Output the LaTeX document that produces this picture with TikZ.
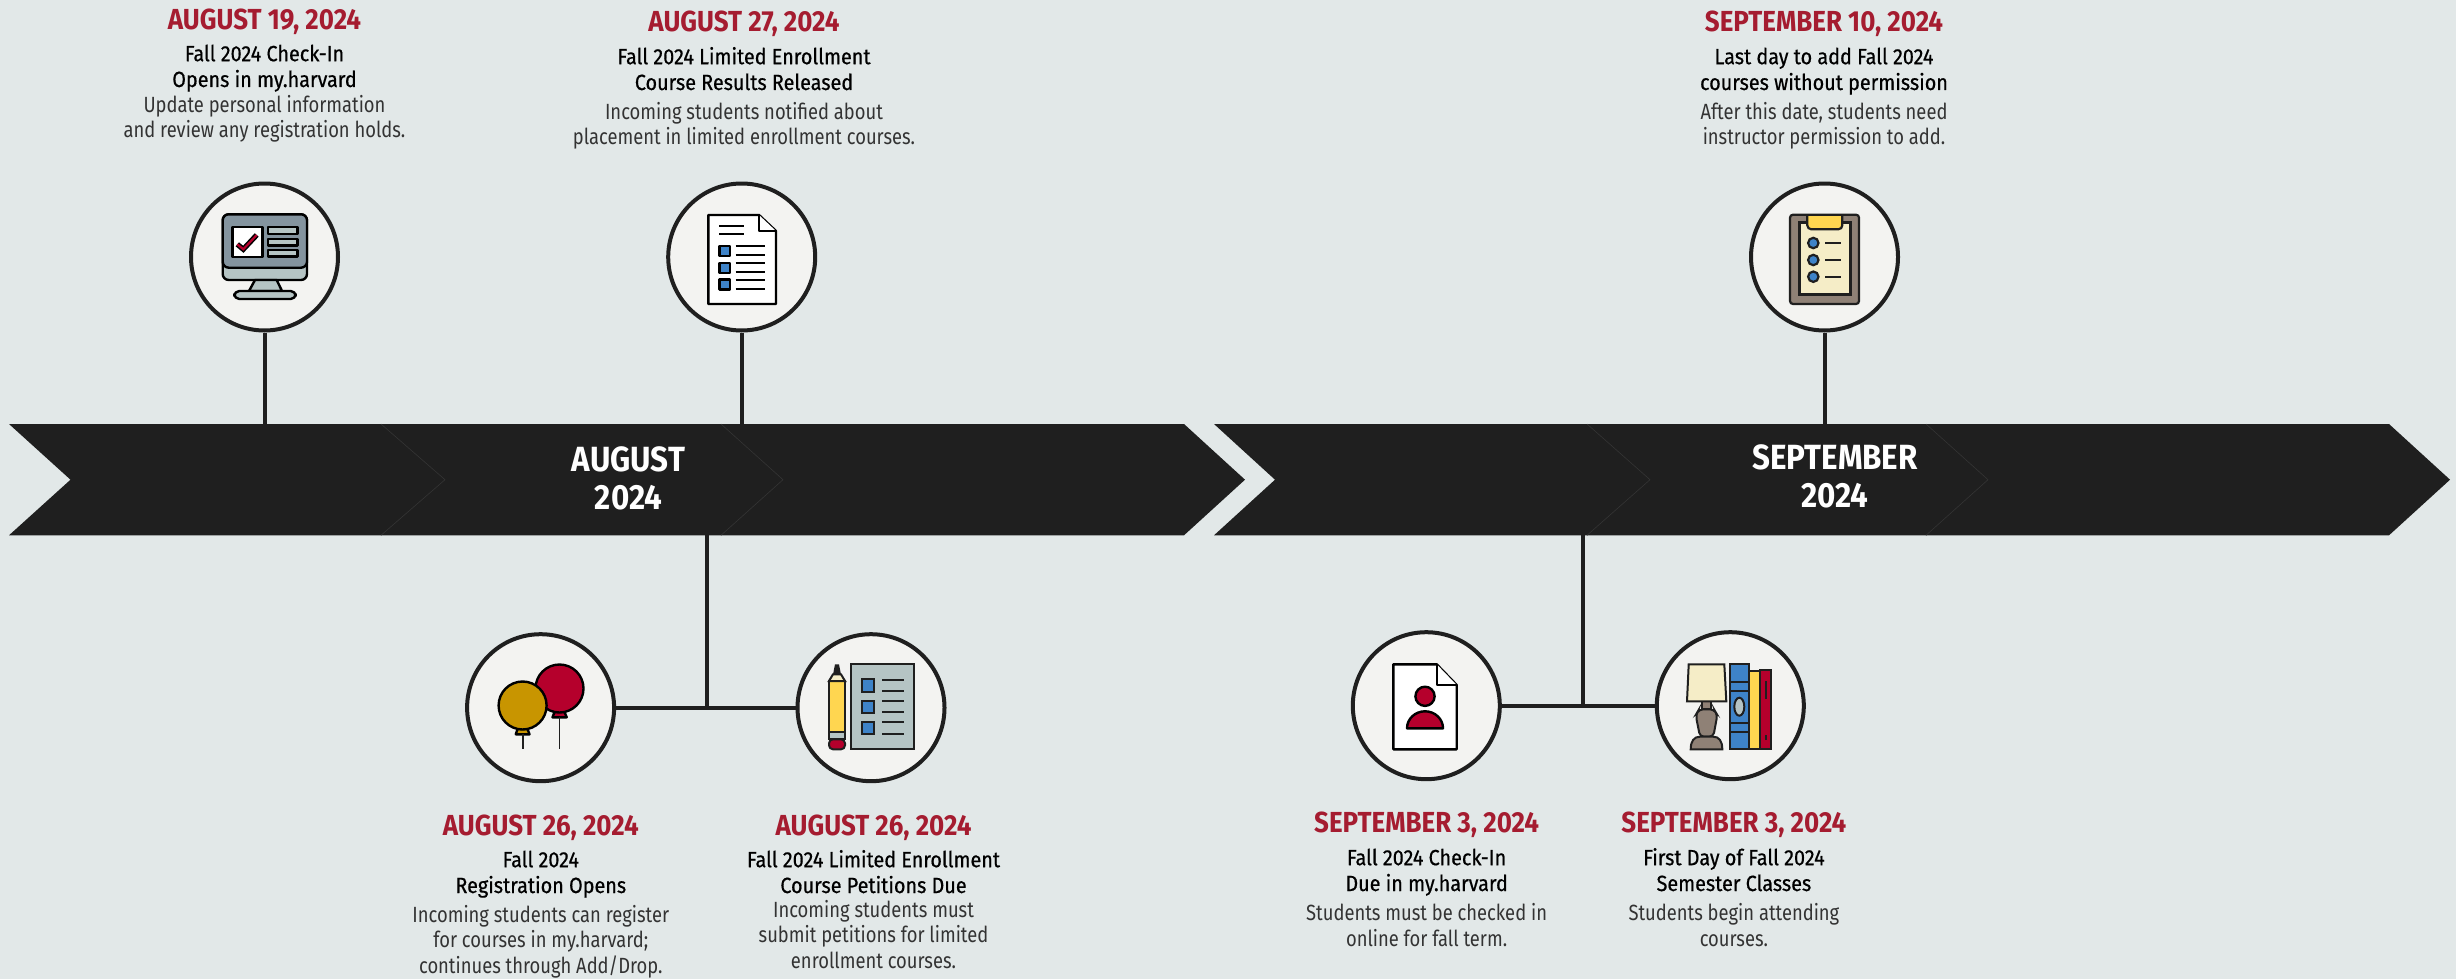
\documentclass[tikz,border=0pt]{standalone}
\usepackage{fontspec}
\setmainfont{Fira Sans}[FakeStretch=0.835]
\newfontfamily\ttlfont{Fira Sans}[FakeStretch=0.895]
\newfontfamily\hdfont{Fira Sans}[FakeStretch=0.9,FakeBold=0.6]
\definecolor{bg}{HTML}{E2E8E8}
\definecolor{barc}{HTML}{1F1F1F}
\definecolor{edgec}{HTML}{343434}
\definecolor{disc}{HTML}{F3F3F1}
\definecolor{crim}{HTML}{A51C30}
\definecolor{ired}{HTML}{B5002C}
\definecolor{gold}{HTML}{C89500}
\definecolor{yel}{HTML}{FFD650}
\definecolor{blu}{HTML}{3E83C8}
\definecolor{cream}{HTML}{F5EDC7}
\definecolor{taupe}{HTML}{8F8176}
\definecolor{pale}{HTML}{B5C4C4}
\definecolor{slate}{HTML}{84949F}
\definecolor{bodyc}{HTML}{333333}
\tikzset{
  disc/.style={circle,draw=barc,fill=disc,line width=2pt,minimum size=73.5pt,inner sep=0pt},
  conn/.style={draw=barc,line width=2pt},
  ttl/.style={anchor=base,text=crim,font=\ttlfont\bfseries\fontsize{14.5}{14.5}\selectfont,inner sep=0pt},
  hd/.style={anchor=base,align=center,text=black,font=\hdfont\fontsize{11}{12.9}\selectfont,inner sep=0pt},
  bd/.style={anchor=base,align=center,text=bodyc,font=\fontsize{11}{12.7}\selectfont,inner sep=0pt},
  mon/.style={anchor=base,align=center,text=white,font=\ttlfont\bfseries\fontsize{17.5}{19}\selectfont,inner sep=0pt},
  ico/.style={draw=black,line width=1.2pt,line join=round},
  icl/.style={draw=black,line width=1pt,line cap=butt},
  chev/.style={draw=edgec,line width=0.3pt}
}
\newcommand{\evt}[8]{%
  \node[ttl] (#1t) at (#2,#3) {#6};
  \node[hd] (#1h) at (#2,#4) {#7};
  \node[bd] (#1b) at (#2,#5) {#8};
}
\begin{document}
\begin{tikzpicture}[x=0.5pt,y=-0.5pt]
\useasboundingbox (0,0) rectangle (2456,979);
\fill[bg] (0,0) rectangle (2456,979);
% discs
\node[disc] (c1) at (264.5,257) {};
\node[disc] (c2) at (741.7,257) {};
\node[disc] (c3) at (1824.5,257) {};
\node[disc] (c4) at (540.6,707.7) {};
\node[disc] (c5) at (871,707.7) {};
\node[disc] (c6) at (1426.3,705.7) {};
\node[disc] (c7) at (1730.3,705.7) {};
% bar coordinates
\coordinate (t1) at (264.5,424);
\coordinate (t2) at (741.7,424);
\coordinate (t3) at (1824.5,424);
\coordinate (b1) at (707,535.3);
\coordinate (b2) at (1583,535.3);
% connectors
\draw[conn] (c1) -- (t1);
\draw[conn] (c2) -- (t2);
\draw[conn] (c3) -- (t3);
\draw[conn] (c4) -- (c5);
\draw[conn] (c6) -- (c7);
\draw[conn] (b1) -- (b1 |- c4);
\draw[conn] (b2) -- (b2 |- c6);
% bars
\fill[barc] (9,424) -- (1184,424) -- (1245,479.7) -- (1184,535.3) -- (9,535.3) -- (70.5,479.7) -- cycle;
\fill[barc] (1214,424) -- (2389,424) -- (2450,479.7) -- (2389,535.3) -- (1214,535.3) -- (1275,479.7) -- cycle;
\draw[chev] (381,424) -- (445,479.7) -- (381,535.3);
\draw[chev] (721,424) -- (783,479.7) -- (721,535.3);
\draw[chev] (1587,424) -- (1650,479.7) -- (1587,535.3);
\draw[chev] (1926,424) -- (1988,479.7) -- (1926,535.3);
\node[mon] (m1) at (628.5,471) {AUGUST};
\node[mon] (m1y) at (628.5,509) {2024};
\node[mon] (m2) at (1835,469) {SEPTEMBER};
\node[mon] (m2y) at (1835,507) {2024};
% texts
\evt{e1}{264.5}{30}{87}{138}{AUGUST 19, 2024}{Fall 2024 Check-In\\Opens in my.harvard}{Update personal information\\and review any registration holds.}
\evt{e2}{744}{32}{90}{145}{AUGUST 27, 2024}{Fall 2024 Limited Enrollment\\Course Results Released}{Incoming students notified about\\placement in limited enrollment courses.}
\evt{e3}{1824}{32}{90}{145}{SEPTEMBER 10, 2024}{Last day to add Fall 2024\\courses without permission}{After this date, students need\\instructor permission to add.}
\evt{e4}{540.8}{835}{893}{973}{AUGUST 26, 2024}{Fall 2024\\Registration Opens}{Incoming students can register\\for courses in my.harvard;\\continues through Add/Drop.}
\evt{e5}{873.5}{835}{893}{968}{AUGUST 26, 2024}{Fall 2024 Limited Enrollment\\Course Petitions Due}{Incoming students must\\submit petitions for limited\\enrollment courses.}
\evt{e6}{1426.6}{832.7}{891}{946}{SEPTEMBER 3, 2024}{Fall 2024 Check-In\\Due in my.harvard}{Students must be checked in\\online for fall term.}
\evt{e7}{1733.9}{832.7}{891}{946}{SEPTEMBER 3, 2024}{First Day of Fall 2024\\Semester Classes}{Students begin attending\\courses.}
% monitor
\draw[ico,fill=pale,rounded corners=3pt] (222.7,267.7) -- (222.7,214.3) -- (307,214.3) -- (307,280) -- (222.7,280) -- cycle;
\draw[ico,fill=slate,rounded corners=3pt] (222.7,267.7) -- (222.7,214.3) -- (307,214.3) -- (307,267.7) -- cycle;
\draw[ico,fill=white] (232.3,227) rectangle (262.3,256.7);
\draw[line width=2.6pt,black,line join=miter] (237.3,244.3) -- (243.3,249.3) -- (256.7,235);
\draw[line width=1.1pt,ired] (237.3,244.3) -- (243.3,249.3) -- (256.7,235);
\draw[ico,fill=pale] (267.7,227) rectangle (297.3,233.7);
\draw[ico,fill=pale] (267.7,238.7) rectangle (297.3,245.3);
\draw[ico,fill=pale] (267.7,250) rectangle (297.3,256.3);
\draw[ico,fill=pale] (255,280) -- (276.7,280) -- (282,291) -- (249,291) -- cycle;
\draw[ico,fill=pale,rounded corners=2.5pt] (234.3,299) -- (234.3,291) -- (295.7,291) -- (295.7,299) -- cycle;
% document list
\draw[ico,fill=white] (708.3,215) -- (759,215) -- (776,231) -- (776,304) -- (708.3,304) -- cycle;
\draw[ico,fill=white] (759,215) -- (759,231) -- (776,231);
\draw[icl] (719.3,225.7) -- (744,225.7) (719.3,233.7) -- (744,233.7);
\foreach \yy in {246,262.7,279.3} \draw[ico,fill=blu] (719.3,\yy) rectangle (730,\yy+10);
\draw[icl] (735.7,246.3) -- (765.3,246.3) (735.7,255) -- (765.3,255) (735.7,263.3) -- (765.3,263.3)
  (735.7,271.7) -- (765.3,271.7) (735.7,280) -- (765.3,280) (735.7,288.7) -- (765.3,288.7);
% clipboard
\draw[draw=barc,line width=1.1pt,fill=taupe,rounded corners=1.5pt] (1790,214.7) rectangle (1859,304);
\draw[draw=barc,line width=1.5pt,fill=cream] (1799,222.7) rectangle (1850,294);
\draw[draw=barc,line width=1.1pt,fill=yel,rounded corners=2pt] (1807.3,216) -- (1807.3,229.3) -- (1842.3,229.3) -- (1842.3,216);
\foreach \yy in {243,260,276.7} {
  \draw[draw=barc,line width=1.1pt,fill=blu] (1813.3,\yy) circle[radius=2.6pt];
  \draw[draw=barc,line width=1pt] (1825,\yy) -- (1841,\yy);
}
% balloons
\draw[ico,fill=ired] (552.5,717.3) -- (554.5,712) -- (564.5,712) -- (566.7,717.3) -- cycle;
\draw[ico,fill=ired] (559.5,688.5) circle[radius=12pt];
\draw[draw=barc,line width=0.9pt] (559.5,717.3) -- (559.5,749.3);
\draw[ico,fill=gold] (515.8,734.3) -- (517.5,729) -- (527.5,729) -- (529.5,734.3) -- cycle;
\draw[ico,fill=gold] (522.6,705.5) circle[radius=12pt];
\draw[draw=barc,line width=0.9pt] (522.6,734.3) -- (522.6,749.3);
% pencil and sheet
\draw[draw=barc,line width=1pt,fill=pale] (851.2,664.3) rectangle (913.5,749.3);
\foreach \yy in {679.3,700.7,722} \draw[draw=barc,line width=1pt,fill=blu] (861.5,\yy) rectangle (873.9,\yy+12.2);
\draw[draw=barc,line width=0.9pt] (882,679.7) -- (904,679.7) (882,690.7) -- (904,690.7) (882,701) -- (904,701)
  (882,712.3) -- (904,712.3) (882,722.3) -- (904,722.3) (882,733.7) -- (904,733.7);
\draw[draw=barc,line width=1pt,fill=ired,rounded corners=2pt] (829,739.3) -- (829,749.3) -- (845,749.3) -- (845,739.3) -- cycle;
\draw[draw=barc,line width=1pt,fill=pale] (829,732.3) rectangle (845,739.3);
\draw[draw=barc,line width=1pt,fill=yel] (829,681) rectangle (845,732.3);
\draw[draw=barc,line width=1pt,fill=cream] (829,681) -- (833,674.3) -- (841,674.3) -- (845,681) -- cycle;
\fill[barc] (833,674.5) -- (835,664.3) -- (839,664.3) -- (841,674.5) -- cycle;
% person document
\draw[ico,fill=white] (1393.3,664.3) -- (1436.7,664.3) -- (1456.7,685) -- (1456.7,749.3) -- (1393.3,749.3) -- cycle;
\draw[ico,fill=white] (1436.7,664.3) -- (1436.7,685) -- (1456.7,685);
\draw[ico,fill=ired] (1425,696.3) circle[radius=4.8pt];
\draw[ico,fill=ired] (1407,728.3) arc[start angle=180,end angle=0,x radius=18,y radius=-17] -- cycle;
% lamp and books
\draw[draw=barc,line width=1pt,fill=taupe] (1702.3,701.3) rectangle (1710.7,709.3);
\draw[draw=barc,line width=1pt,fill=cream] (1688.7,664.3) -- (1724.3,664.3) -- (1726.3,701.3) -- (1687,701.3) -- cycle;
\draw[draw=barc,line width=1pt,fill=taupe,rounded corners=2pt] (1699,709.3) -- (1714,709.3) -- (1717.3,715) -- (1713.3,736.7) -- (1700,736.7) -- (1695.7,715) -- cycle;
\draw[draw=barc,line width=1pt,fill=taupe] (1690.7,749.3) .. controls (1690.7,741) and (1694,736.7) .. (1700,736.7) -- (1713.3,736.7) .. controls (1719,736.7) and (1722.3,741) .. (1722.3,749.3) -- cycle;
\draw[draw=barc,line width=1pt,fill=ired] (1760,670) rectangle (1771.3,749.3);
\draw[draw=barc,line width=1pt,fill=yel] (1749,670.7) rectangle (1760,749.3);
\draw[draw=barc,line width=1pt,fill=blu] (1730,664.3) rectangle (1749,749.3);
\draw[draw=barc,line width=1pt] (1730,682) -- (1749,682) (1730,691.3) -- (1749,691.3) (1730,722.7) -- (1749,722.7) (1730,732) -- (1749,732);
\draw[draw=barc,line width=1pt,fill=pale] (1739.3,706.7) ellipse[x radius=5,y radius=9];
\draw[draw=barc,line width=1pt] (1765.7,681) -- (1765.7,699.3) (1765.7,735) -- (1765.7,740);
\end{tikzpicture}
\end{document}
